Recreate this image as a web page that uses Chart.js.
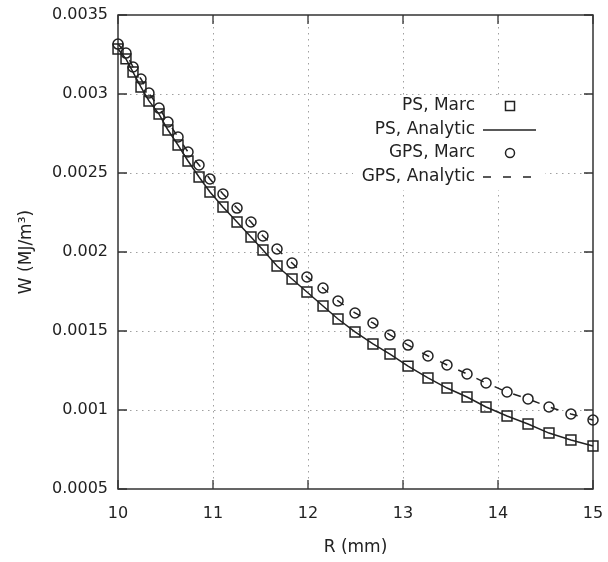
<!DOCTYPE html>
<html>
<head>
<meta charset="utf-8">
<script src="https://cdn.jsdelivr.net/npm/chart.js@4.4.1/dist/chart.umd.min.js"></script>
<style>
  body { margin: 0; background: #fff; }
  canvas { display: block; }
</style>
</head>
<body>
<canvas id="chart" width="608" height="562"></canvas>
<script>
// Radius values (mm) where the Marc results were sampled
const radius = [
  10.000, 10.084, 10.158, 10.242, 10.326, 10.432, 10.526, 10.632, 10.737, 10.853,
  10.968, 11.105, 11.253, 11.400, 11.526, 11.674, 11.832, 11.989, 12.158, 12.316,
  12.495, 12.684, 12.863, 13.053, 13.263, 13.463, 13.674, 13.874, 14.095, 14.316,
  14.537, 14.768, 15.000
];

// W (MJ/m^3), plane strain
const psMarc = [
  0.003285, 0.003222, 0.003139, 0.003044, 0.002956, 0.002873, 0.002772, 0.002677, 0.002576, 0.002475,
  0.002380, 0.002285, 0.002190, 0.002095, 0.002013, 0.001911, 0.001829, 0.001747, 0.001658, 0.001576,
  0.001494, 0.001418, 0.001354, 0.001278, 0.001203, 0.001139, 0.001082, 0.001019, 0.000962, 0.000911,
  0.000854, 0.000810, 0.000772
];
const psAnalytic = psMarc.slice();

// W (MJ/m^3), generalized plane strain
const gpsMarc = [
  0.003316, 0.003259, 0.003171, 0.003095, 0.003006, 0.002911, 0.002823, 0.002728, 0.002633, 0.002551,
  0.002462, 0.002367, 0.002278, 0.002190, 0.002101, 0.002019, 0.001930, 0.001842, 0.001772, 0.001690,
  0.001614, 0.001551, 0.001475, 0.001411, 0.001342, 0.001285, 0.001228, 0.001171, 0.001114, 0.001070,
  0.001019, 0.000975, 0.000937
];
const gpsAnalytic = gpsMarc.slice();

const xTicks = [10, 11, 12, 13, 14, 15];
const yTicks = [0.0005, 0.001, 0.0015, 0.002, 0.0025, 0.003, 0.0035];

const ink = '#222';
const fontFamily = '"DejaVu Sans", Verdana, sans-serif';

const pts = (ys) => radius.map((r, i) => ({ x: r, y: ys[i] }));

// grid, frame, inward ticks and the opaque key, gnuplot style
const gnuplotLook = {
  id: 'gnuplotLook',
  beforeDatasetsDraw(chart) {
    const { ctx, chartArea: a, scales: { x, y } } = chart;
    ctx.save();
    // dotted grid
    ctx.strokeStyle = '#a0a0a0';
    ctx.lineWidth = 1;
    ctx.setLineDash([1.5, 4.5]);
    xTicks.slice(1, -1).forEach(v => {
      const px = Math.round(x.getPixelForValue(v)) + 0.5;
      ctx.beginPath(); ctx.moveTo(px, a.top); ctx.lineTo(px, a.bottom); ctx.stroke();
    });
    yTicks.slice(1, -1).forEach(v => {
      const py = Math.round(y.getPixelForValue(v)) + 0.5;
      ctx.beginPath(); ctx.moveTo(a.left, py); ctx.lineTo(a.right, py); ctx.stroke();
    });
    ctx.setLineDash([]);

    // frame
    ctx.strokeStyle = '#333';
    ctx.lineWidth = 1.5;
    ctx.strokeRect(a.left, a.top, a.right - a.left, a.bottom - a.top);

    // inward tick marks on all four sides
    const tl = 9;
    ctx.lineWidth = 1.3;
    ctx.beginPath();
    xTicks.forEach(v => {
      const px = x.getPixelForValue(v);
      ctx.moveTo(px, a.bottom); ctx.lineTo(px, a.bottom - tl);
      ctx.moveTo(px, a.top); ctx.lineTo(px, a.top + tl);
    });
    yTicks.forEach(v => {
      const py = y.getPixelForValue(v);
      ctx.moveTo(a.left, py); ctx.lineTo(a.left + tl, py);
      ctx.moveTo(a.right, py); ctx.lineTo(a.right - tl, py);
    });
    ctx.stroke();
    ctx.restore();
  },
  afterDatasetsDraw(chart) {
    const { ctx, chartArea: a } = chart;
    ctx.save();
    // opaque key box
    ctx.fillStyle = '#fff';
    ctx.fillRect(a.right - 240, a.top + 81, 192, 94);

    const textRight = a.right - 118;
    const sampleX = a.right - 83;
    const rows = [a.top + 91, a.top + 115, a.top + 138, a.top + 162];
    const labels = ['PS, Marc', 'PS, Analytic', 'GPS, Marc', 'GPS, Analytic'];

    ctx.font = '17px ' + fontFamily;
    ctx.fillStyle = ink;
    ctx.textAlign = 'right';
    ctx.textBaseline = 'middle';
    labels.forEach((t, i) => ctx.fillText(t, textRight, rows[i]));

    ctx.strokeStyle = ink;
    ctx.lineWidth = 1.5;
    // square
    ctx.strokeRect(sampleX - 4.5, rows[0] - 4.5, 9, 9);
    // solid line
    ctx.beginPath();
    ctx.moveTo(sampleX - 27, rows[1]); ctx.lineTo(sampleX + 26, rows[1]);
    ctx.stroke();
    // circle
    ctx.beginPath();
    ctx.arc(sampleX, rows[2], 4.5, 0, Math.PI * 2);
    ctx.stroke();
    // dashed line
    ctx.setLineDash([8, 12]);
    ctx.beginPath();
    ctx.moveTo(sampleX - 27, rows[3]); ctx.lineTo(sampleX + 26, rows[3]);
    ctx.stroke();
    ctx.restore();
  }
};

new Chart(document.getElementById('chart'), {
  type: 'scatter',
  data: {
    datasets: [
      {
        label: 'PS, Marc',
        data: pts(psMarc),
        showLine: false,
        pointStyle: 'rect',
        pointRadius: 7,
        pointBorderWidth: 1.5,
        pointBorderColor: ink,
        pointBackgroundColor: 'rgba(0,0,0,0)',
        clip: false
      },
      {
        label: 'PS, Analytic',
        data: pts(psAnalytic),
        showLine: true,
        borderColor: ink,
        borderWidth: 1.5,
        pointRadius: 0,
        tension: 0,
        clip: false
      },
      {
        label: 'GPS, Marc',
        data: pts(gpsMarc),
        showLine: false,
        pointStyle: 'circle',
        pointRadius: 5,
        pointBorderWidth: 1.5,
        pointBorderColor: ink,
        pointBackgroundColor: 'rgba(0,0,0,0)',
        clip: false
      },
      {
        label: 'GPS, Analytic',
        data: pts(gpsAnalytic),
        showLine: true,
        borderColor: ink,
        borderWidth: 1.5,
        borderDash: [8, 12],
        pointRadius: 0,
        tension: 0,
        clip: false
      }
    ]
  },
  options: {
    responsive: false,
    animation: false,
    layout: { padding: { top: 15, right: 15, left: 0, bottom: 0 } },
    plugins: {
      legend: { display: false },
      tooltip: { enabled: false }
    },
    scales: {
      x: {
        type: 'linear',
        min: 10,
        max: 15,
        afterFit: (s) => { s.height = 73; s.paddingLeft = 0; s.paddingRight = 0; },
        afterBuildTicks: (s) => { s.ticks = xTicks.map(v => ({ value: v })); },
        grid: { display: false, drawTicks: false },
        border: { display: false },
        ticks: {
          padding: 15,
          color: ink,
          font: { family: fontFamily, size: 16 },
          callback: (v) => String(v)
        },
        title: {
          display: true,
          text: 'R (mm)',
          color: ink,
          font: { family: fontFamily, size: 17 },
          padding: { top: 0, bottom: 4 }
        }
      },
      y: {
        type: 'linear',
        min: 0.0005,
        max: 0.0035,
        afterFit: (s) => { s.width = 118; s.paddingTop = 0; s.paddingBottom = 0; },
        afterBuildTicks: (s) => { s.ticks = yTicks.map(v => ({ value: v })); },
        grid: { display: false, drawTicks: false },
        border: { display: false },
        ticks: {
          padding: 10,
          color: ink,
          font: { family: fontFamily, size: 16 },
          callback: (v) => String(+v.toFixed(4))
        },
        title: {
          display: true,
          text: 'W (MJ/m³)',
          color: ink,
          font: { family: fontFamily, size: 17 },
          padding: { top: 16, bottom: 0 }
        }
      }
    }
  },
  plugins: [gnuplotLook]
});
</script>
</body>
</html>
